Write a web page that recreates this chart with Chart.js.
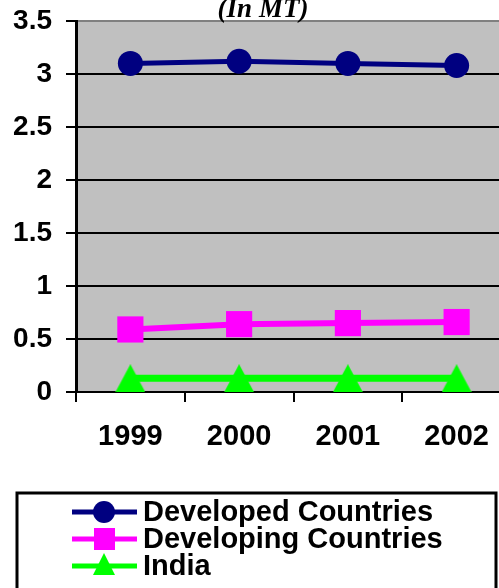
<!DOCTYPE html>
<html>
<head>
<meta charset="utf-8">
<script src="https://cdn.jsdelivr.net/npm/chart.js@4"></script>
<style>
  html, body { margin: 0; padding: 0; background: #fff; overflow: hidden; }
  #wrap { width: 512px; height: 588px; }
  #chart { display: block; width: 512px; height: 588px; }
</style>
</head>
<body>
<div id="wrap"><canvas id="chart" width="512" height="588"></canvas></div>
<script>
/* ---------- DATA ---------- */
const years = ["1999", "2000", "2001", "2002"];
const developed = [3.10, 3.12, 3.10, 3.08];
const developing = [0.59, 0.64, 0.65, 0.66];
const india = [0.13, 0.13, 0.13, 0.13];
const seriesNames = ["Developed Countries", "Developing Countries", "India"];
const titleText = "(In MT)";

/* ---------- MARKERS ---------- */
// triangle centred on its bounding box (like the original), not on its centroid
function triangleMarker(w, h, color) {
    const c = document.createElement("canvas");
    c.width = w; c.height = h;
    const g = c.getContext("2d");
    g.fillStyle = color;
    g.beginPath();
    g.moveTo(w / 2, 0);
    g.lineTo(w, h);
    g.lineTo(0, h);
    g.closePath();
    g.fill();
    return c;
}
const triBig = triangleMarker(30, 28, "#00ff00");

/* ---------- PLUGINS ---------- */
const plotBg = {
    id: "plotBg",
    beforeDraw(chart) {
        const { ctx, chartArea: a } = chart;
        ctx.save();
        ctx.fillStyle = "#c0c0c0";
        ctx.fillRect(a.left, a.top, a.right - a.left, a.bottom - a.top);
        ctx.restore();
    }
};

const titleAndLegend = {
    id: "titleAndLegend",
    afterDraw(chart) {
        const ctx = chart.ctx;
        ctx.save();
        // title, partly cut at the top like the reference
        ctx.fillStyle = "#000";
        ctx.font = "italic bold 27px 'Liberation Serif', 'Times New Roman', serif";
        ctx.textAlign = "center";
        ctx.textBaseline = "alphabetic";
        ctx.fillText(titleText, 263, 17);

        // legend box
        ctx.strokeStyle = "#000";
        ctx.lineWidth = 3;
        ctx.strokeRect(17, 493, 479, 120);

        const rows = [512, 539, 566];
        chart.data.datasets.forEach((ds, i) => {
            const y = rows[i];
            ctx.strokeStyle = ds.borderColor;
            ctx.lineWidth = 5;
            ctx.beginPath();
            ctx.moveTo(72, y);
            ctx.lineTo(137, y);
            ctx.stroke();
            ctx.fillStyle = ds.pointBackgroundColor;
            if (i === 0) {
                ctx.beginPath();
                ctx.arc(104, y, 11, 0, Math.PI * 2);
                ctx.fill();
            } else if (i === 1) {
                ctx.fillRect(94, y - 11, 21, 22);
            } else {
                ctx.beginPath();
                ctx.moveTo(104, y - 13);
                ctx.lineTo(115, y + 9);
                ctx.lineTo(93, y + 9);
                ctx.closePath();
                ctx.fill();
            }
            ctx.fillStyle = "#000";
            ctx.font = "bold 29px 'Liberation Sans', Arial, sans-serif";
            ctx.textAlign = "left";
            ctx.textBaseline = "middle";
            ctx.fillText(ds.label, 143, y + 1);
        });
        ctx.restore();
    }
};

// keep the plot area exactly where the layout padding puts it
function noScalePadding(scale) {
    scale.paddingTop = 0;
    scale.paddingBottom = 0;
    scale.paddingLeft = 0;
    scale.paddingRight = 0;
}

/* ---------- CHART ---------- */
const ctx = document.getElementById("chart").getContext("2d");
new Chart(ctx, {
    type: "line",
    data: {
        labels: years,
        datasets: [
            {
                label: seriesNames[0],
                data: developed,
                borderColor: "#000080",
                backgroundColor: "#000080",
                pointBackgroundColor: "#000080",
                pointBorderWidth: 0,
                borderWidth: 5,
                pointStyle: "circle",
                pointRadius: 12.5,
                tension: 0
            },
            {
                label: seriesNames[1],
                data: developing,
                borderColor: "#ff00ff",
                backgroundColor: "#ff00ff",
                pointBackgroundColor: "#ff00ff",
                pointBorderWidth: 0,
                borderWidth: 6,
                pointStyle: "rect",
                pointRadius: 18.5,
                tension: 0
            },
            {
                label: seriesNames[2],
                data: india,
                borderColor: "#00ff00",
                backgroundColor: "#00ff00",
                pointBackgroundColor: "#00ff00",
                pointBorderWidth: 0,
                borderWidth: 7,
                pointStyle: triBig,
                pointRadius: 14,
                tension: 0
            }
        ]
    },
    options: {
        responsive: false,
        animation: false,
        devicePixelRatio: 1,
        clip: false,
        layout: { autoPadding: false, padding: { left: 0, top: 21, right: 1, bottom: 136 } },
        plugins: {
            legend: { display: false },
            title: { display: false },
            tooltip: { enabled: false }
        },
        scales: {
            x: {
                offset: true,
                afterFit(scale) { scale.height = 60; noScalePadding(scale); },
                grid: {
                    drawOnChartArea: false,
                    drawTicks: true,
                    tickLength: 10,
                    tickColor: "#000",
                    lineWidth: 2,
                    offset: true
                },
                border: { display: true, color: "#000", width: 2 },
                ticks: {
                    color: "#000",
                    padding: 18,
                    maxRotation: 0,
                    font: { family: "'Liberation Sans', Arial, sans-serif", size: 29, weight: "bold" }
                }
            },
            y: {
                min: 0,
                max: 3.5,
                afterFit(scale) { scale.width = 76; noScalePadding(scale); },
                grid: {
                    color: (c) => (c.tick && c.tick.value === 3.5 ? "#808080" : "#000"),
                    lineWidth: 2,
                    drawTicks: true,
                    tickLength: 10,
                    tickColor: "#000"
                },
                border: { display: true, color: "#000", width: 3 },
                ticks: {
                    stepSize: 0.5,
                    color: "#000",
                    padding: 14,
                    callback: (v) => String(v),
                    font: { family: "'Liberation Sans', Arial, sans-serif", size: 28, weight: "bold" }
                }
            }
        }
    },
    plugins: [plotBg, titleAndLegend]
});
</script>
</body>
</html>
